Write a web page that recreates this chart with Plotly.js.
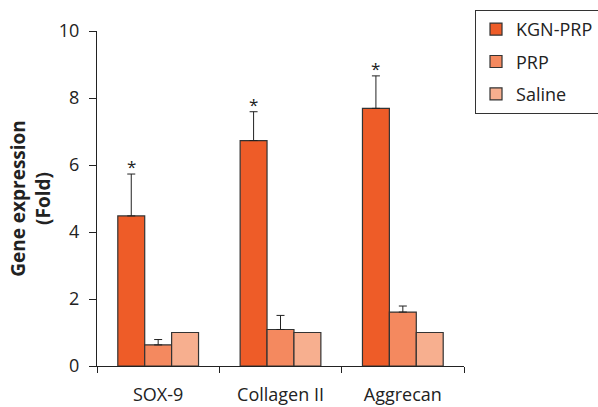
<!DOCTYPE html>
<html>
<head>
<meta charset="utf-8">
<script src="https://cdn.plot.ly/plotly-3.0.1.min.js"></script>
<style>html,body{margin:0;padding:0;background:#fff;}#chart{width:598px;height:407px;}</style>
</head>
<body>
<div id="chart"></div>
<script>
const categories = ["SOX-9", "Collagen II", "Aggrecan"];
const seriesNames = ["KGN-PRP", "PRP", "Saline"];
const kgnPrp = [4.48, 6.73, 7.69];
const kgnPrpErr = [1.25, 0.86, 0.97];
const prp = [0.63, 1.09, 1.61];
const prpErr = [0.16, 0.42, 0.18];
const saline = [1.0, 1.0, 1.0];
const salineErr = [0, 0, 0];
const significant = [true, true, true];
const yTicks = [0, 2, 4, 6, 8, 10];

const colors = ["#EE5C28", "#F4895F", "#F7AF8F"];
const values = [kgnPrp, prp, saline];
const errs = [kgnPrpErr, prpErr, salineErr];

const traces = seriesNames.map((name, i) => ({
  type: "bar",
  name: name,
  x: categories,
  y: values[i],
  legendgroup: name,
  marker: {color: colors[i], line: {color: "#333333", width: 1.2}},
  error_y: {
    type: "data", symmetric: false, array: errs[i], arrayminus: errs[i].map(() => 0),
    visible: i < 2, color: "#222222", thickness: 1, width: 4
  }
}));

const annotations = categories.map((c, i) => significant[i] ? {
  x: c, y: kgnPrp[i] + kgnPrpErr[i], xref: "x", yref: "y",
  text: "*", showarrow: false, xshift: -27, yanchor: "bottom", yshift: -6,
  font: {size: 17, color: "#222"}
} : null).filter(a => a);

const layout = {
  width: 598, height: 407,
  margin: {l: 97, r: 134, t: 31, b: 41, autoexpand: false},
  paper_bgcolor: "#fff", plot_bgcolor: "#fff",
  font: {family: "Open Sans, sans-serif", size: 18, color: "#222"},
  barmode: "group", bargap: 0.34, bargroupgap: 0,
  showlegend: true,
  legend: {
    x: 1.03, y: 1.063, xanchor: "left", yanchor: "top",
    bordercolor: "#333", borderwidth: 1, bgcolor: "#fff",
    font: {size: 18, color: "#222"}, tracegroupgap: 6,
    itemwidth: 30
  },
  xaxis: {
    type: "category", showline: true, linecolor: "#222", linewidth: 1,
    ticks: "outside", tickson: "boundaries", ticklen: 6, tickcolor: "#222",
    showgrid: false, zeroline: false, tickfont: {size: 18, color: "#222"},
    ticklabelstandoff: 12,
    range: [-0.5, 2.5]
  },
  yaxis: {
    range: [0, 10], tickvals: yTicks, showline: true, linecolor: "#222", linewidth: 1,
    ticks: "outside", ticklen: 7, tickcolor: "#222", showgrid: false, zeroline: false,
    tickfont: {size: 18, color: "#222"}, ticklabelstandoff: 6,
    title: {text: "<b>Gene expression</b><br><b>(Fold)</b>", font: {size: 19, color: "#222"}, standoff: 3}
  },
  annotations: annotations
};

Plotly.newPlot("chart", traces, layout, {displayModeBar: false, staticPlot: true});
</script>
</body>
</html>
